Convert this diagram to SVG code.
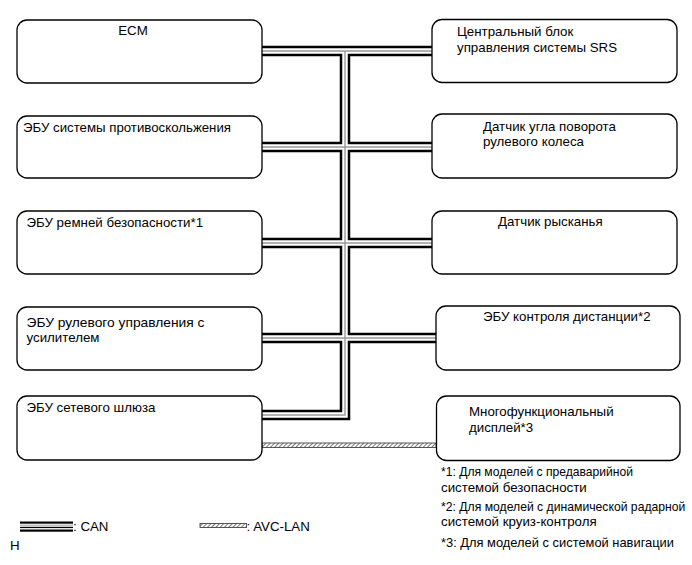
<svg xmlns="http://www.w3.org/2000/svg" width="692" height="565" viewBox="0 0 692 565">
<style>
text{font-family:"Liberation Sans",Arial,sans-serif;font-size:13.3px;fill:#000}
.box{fill:#fff;stroke:#000;stroke-width:1.3}
.bk{fill:none;stroke:#000;stroke-width:10.5}
.wh{fill:none;stroke:#fff;stroke-width:5.5}
.gr{fill:none;stroke:#999;stroke-width:1.4}
.avc{fill:url(#hatch);stroke:#444;stroke-width:0.9}
</style>
<defs>
<pattern id="hatch" patternUnits="userSpaceOnUse" width="3" height="3" patternTransform="rotate(45)">
<rect width="3" height="3" fill="#fff"/>
<line x1="0" y1="0" x2="0" y2="3" stroke="#555" stroke-width="1.6"/>
</pattern>
<path id="bus" d="M345 51 V415 H262 M262 51 H432 M262 147 H432 M262 243 H432 M262 338 H436"/>
</defs>
<g id="connectors">
<use href="#bus" class="bk"/>
<use href="#bus" class="wh"/>
<use href="#bus" class="gr"/>
<rect class="avc" x="262" y="443" width="174" height="4.5"/>
</g>
<g id="ecm"><rect class="box" x="17" y="20" width="245" height="63" rx="10"/><text x="133" y="35" text-anchor="middle">ECM</text></g>
<g id="abs"><rect class="box" x="17" y="116" width="245" height="62" rx="10"/><text x="23" y="132" textLength="208" lengthAdjust="spacingAndGlyphs">ЭБУ системы противоскольжения</text></g>
<g id="belt"><rect class="box" x="17" y="211" width="245" height="63" rx="10"/><text x="26.5" y="227">ЭБУ ремней безопасности*1</text></g>
<g id="eps"><rect class="box" x="17" y="307" width="245" height="63" rx="10"/><text x="26.5" y="326.5" textLength="178" lengthAdjust="spacingAndGlyphs">ЭБУ рулевого управления с</text><text x="26.5" y="341.5">усилителем</text></g>
<g id="gateway"><rect class="box" x="17" y="396" width="245" height="64" rx="10"/><text x="26.5" y="412">ЭБУ сетевого шлюза</text></g>
<g id="srs"><rect class="box" x="432" y="19.5" width="245" height="63" rx="10"/><text x="457" y="36">Центральный блок</text><text x="457" y="51.5">управления системы SRS</text></g>
<g id="steer"><rect class="box" x="432" y="114" width="245" height="64" rx="10"/><text x="483" y="130.5">Датчик угла поворота</text><text x="483" y="146">рулевого колеса</text></g>
<g id="yaw"><rect class="box" x="432" y="211" width="245" height="63" rx="10"/><text x="498" y="226">Датчик рысканья</text></g>
<g id="dist"><rect class="box" x="436" y="306" width="244" height="64" rx="10"/><text x="483" y="321">ЭБУ контроля дистанции*2</text></g>
<g id="display"><rect class="box" x="436.5" y="396" width="243.5" height="64.5" rx="10"/><text x="469" y="416">Многофункциональный</text><text x="469" y="431.5">дисплей*3</text></g>
<g id="notes">
<text x="441" y="476" textLength="192" lengthAdjust="spacingAndGlyphs">*1: Для моделей с предаварийной</text>
<text x="441" y="491.5">системой безопасности</text>
<text x="441" y="511" style="font-size:12.2px">*2: Для моделей с динамической радарной</text>
<text x="441" y="526">системой круиз-контроля</text>
<text x="441" y="546.5" textLength="233" lengthAdjust="spacingAndGlyphs">*3: Для моделей с системой навигации</text>
</g>
<g id="legend">
<rect x="20" y="521.5" width="53" height="2.2" fill="#000"/>
<rect x="20" y="524.7" width="53" height="0.9" fill="#999"/>
<rect x="20" y="526.8" width="53" height="1.3" fill="#000"/>
<rect x="20" y="529.5" width="53" height="2.2" fill="#000"/>
<text x="73" y="531">: CAN</text>
<rect class="avc" x="200" y="523.5" width="46.5" height="4"/>
<text x="246.5" y="531">: AVC-LAN</text>
<text x="10" y="550">H</text>
</g>
</svg>
